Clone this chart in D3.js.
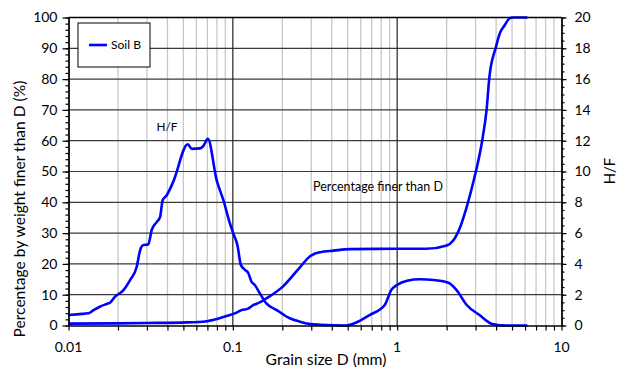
<!DOCTYPE html>
<html><head><meta charset="utf-8">
<script src="https://cdn.jsdelivr.net/npm/d3@7"></script>
<style>body{margin:0;background:#fff}svg{display:block}text{font-family:Lato,"Liberation Sans",Arial,sans-serif;fill:#000}</style>
</head><body>
<script>
// Percentage finer than D (left axis, %)
const finerD = [0.01,0.02,0.03,0.0524,0.0694,0.0918,0.1055,0.113,0.124,0.133,0.146,0.160,0.203,0.256,0.295,0.34,0.41,0.517,1.0,1.5,2.0,2.2,2.42,2.65,2.92,3.29,3.5,3.64,3.99,4.2,4.5,4.8,5.06,6.2];
const finerPct = [0.6,0.7,0.8,1.0,1.4,3.1,4.2,5.0,5.5,6.6,7.5,8.8,12.8,18.9,22.5,23.8,24.3,24.8,24.9,24.9,26.0,27.7,32,38.5,47,60,70,80.6,90.4,94.7,97.4,99.6,100,100];
// H/F (right axis)
const hfD = [0.01,0.0117,0.0132,0.0142,0.0155,0.0171,0.0179,0.0192,0.0216,0.0237,0.026,0.0273,0.0283,0.0306,0.0321,0.0345,0.0361,0.0374,0.0396,0.0434,0.0532,0.0563,0.0632,0.066,0.0705,0.0797,0.0876,0.096,0.1006,0.1066,0.112,0.119,0.124,0.130,0.136,0.146,0.160,0.185,0.222,0.256,0.295,0.34,0.49,0.56,0.68,0.84,0.92,0.997,1.15,1.38,1.67,2.05,2.3,2.65,3.17,3.8,4.65,6.2];
const hfVal = [0.68,0.74,0.79,1.0,1.22,1.4,1.48,1.87,2.3,2.95,3.8,4.9,5.2,5.28,6.2,6.73,7.06,8.14,8.46,9.33,11.77,11.47,11.5,11.64,12.12,9.44,8.14,6.63,5.98,5.22,3.92,3.6,3.42,2.84,2.63,2.09,1.44,1.0,0.47,0.25,0.1,0.05,0.0,0.18,0.68,1.33,2.3,2.63,2.91,3.0,2.95,2.78,2.3,1.33,0.68,0.1,0.0,0.0];
const xTickLabels = ["0.01","0.1","1","10"];
const leftTicks = [0,10,20,30,40,50,60,70,80,90,100];
const rightTicks = [0,2,4,6,8,10,12,14,16,18,20];

const W=618,H=367;
const L=68.5,R=561.5,T=17.5,B=325.5;
const svg=d3.select("body").append("svg").attr("width",W).attr("height",H);
const x=d3.scaleLog().domain([0.01,10]).range([L,R]);
const y=d3.scaleLinear().domain([0,100]).range([B,T]);
const y2=d3.scaleLinear().domain([0,20]).range([B,T]);

// fit a text element's font size so its width matches target
function fit(sel,target){const n=sel.node();const fsz=parseFloat(sel.attr("font-size"));const w=n.getComputedTextLength();sel.attr("font-size",(fsz*target/w).toFixed(2));return sel;}

// minor vertical grid
const minorX=[];
[0.01,0.1,1].forEach(d=>{for(let k=2;k<=9;k++)minorX.push(d*k);});
svg.append("g").selectAll("line").data(minorX).join("line")
 .attr("x1",d=>x(d)).attr("x2",d=>x(d)).attr("y1",T).attr("y2",B)
 .attr("stroke","#c8c8c8").attr("stroke-width",1.3);
// major horizontal grid
svg.append("g").selectAll("line").data(leftTicks.slice(1)).join("line")
 .attr("x1",L).attr("x2",R).attr("y1",d=>y(d)).attr("y2",d=>y(d))
 .attr("stroke","#3a3a3a").attr("stroke-width",1.2);
// major vertical grid
svg.append("g").selectAll("line").data([0.1,1]).join("line")
 .attr("x1",d=>x(d)).attr("x2",d=>x(d)).attr("y1",T).attr("y2",B)
 .attr("stroke","#222").attr("stroke-width",1.2);

// curves
const line=(xs,ys,ysc)=>d3.line().x((d,i)=>x(xs[i])).y((d,i)=>ysc(ys[i])).curve(d3.curveMonotoneX)(xs);
svg.append("path").attr("d",line(finerD,finerPct,y)).attr("fill","none").attr("stroke","#0000ff").attr("stroke-width",2.6).attr("stroke-linejoin","round");
svg.append("path").attr("d",line(hfD,hfVal,y2)).attr("fill","none").attr("stroke","#0000ff").attr("stroke-width",2.6).attr("stroke-linejoin","round");

// axes
const fs=14;
svg.append("g").attr("transform",`translate(0,${B})`)
 .call(d3.axisBottom(x).tickValues([...minorX,0.01,0.1,1,10]).tickFormat("").tickSize(5).tickSizeOuter(0));
svg.append("g").attr("transform",`translate(${L},0)`)
 .call(d3.axisLeft(y).tickValues(d3.range(0,101,2)).tickFormat("").tickSize(3).tickSizeOuter(0));
svg.append("g").attr("transform",`translate(${L},0)`)
 .call(d3.axisLeft(y).tickValues(leftTicks).tickFormat(d=>d).tickSize(6).tickSizeOuter(0))
 .call(g=>g.selectAll("text").attr("font-size",fs).attr("font-family","Lato").attr("dx","-2"));
svg.append("g").attr("transform",`translate(${R},0)`)
 .call(d3.axisRight(y2).tickValues(d3.range(0,20.01,0.5)).tickFormat("").tickSize(3).tickSizeOuter(0));
svg.append("g").attr("transform",`translate(${R},0)`)
 .call(d3.axisRight(y2).tickValues(rightTicks).tickFormat(d=>d).tickSize(5).tickSizeOuter(0))
 .call(g=>g.selectAll("text").attr("font-size",fs).attr("font-family","Lato").attr("dx","5"));
svg.selectAll(".domain").attr("stroke","#000").attr("stroke-width",1.3);
svg.selectAll(".tick line").attr("stroke","#000").attr("stroke-width",1.2);
// x labels
svg.append("g").selectAll("text").data(xTickLabels).join("text")
 .attr("x",d=>x(+d)).attr("y",352).attr("text-anchor","middle").attr("font-size",fs).text(d=>d);
// top border
svg.append("line").attr("x1",L).attr("x2",R).attr("y1",T).attr("y2",T).attr("stroke","#000").attr("stroke-width",1.3);

// titles
fit(svg.append("text").attr("x",326).attr("y",365).attr("text-anchor","middle").attr("font-size",14).text("Grain size D (mm)"),121);
fit(svg.append("text").attr("transform","translate(25,209) rotate(-90)").attr("text-anchor","middle").attr("font-size",14).text("Percentage by weight finer than D (%)"),257);
svg.append("text").attr("transform","translate(615,171) rotate(-90)").attr("text-anchor","middle").attr("font-size",15).text("H/F");
fit(svg.append("text").attr("x",167).attr("y",131).attr("text-anchor","middle").attr("font-size",12).text("H/F"),21);
fit(svg.append("text").attr("x",378).attr("y",191).attr("text-anchor","middle").attr("font-size",12).text("Percentage finer than D"),130);

// legend
svg.append("rect").attr("x",78).attr("y",23).attr("width",72).attr("height",44).attr("fill","#fff").attr("stroke","#000").attr("stroke-width",1);
svg.append("line").attr("x1",89).attr("x2",107).attr("y1",45).attr("y2",45).attr("stroke","#0000ff").attr("stroke-width",2.6);
fit(svg.append("text").attr("x",111).attr("y",49).attr("font-size",12).text("Soil B"),30);
</script>
</body></html>
